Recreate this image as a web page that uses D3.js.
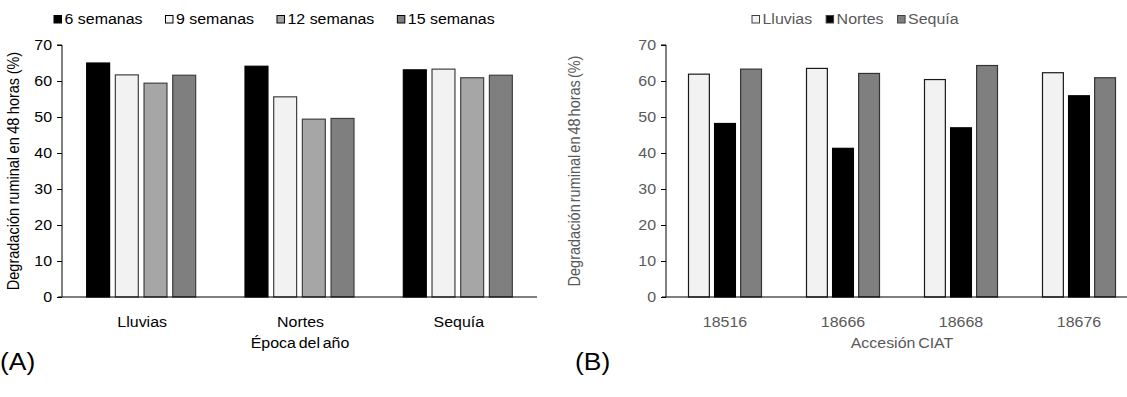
<!DOCTYPE html>
<html>
<head>
<meta charset="utf-8">
<script src="https://cdn.jsdelivr.net/npm/d3@7"></script>
<style>
  body { margin: 0; background: #fff; }
  svg { font-family: "Liberation Sans", Arial, sans-serif; }
</style>
</head>
<body>
<svg id="chart" width="1127" height="397"></svg>
<script>
// ---- data (A) ----
const epocas = ["Lluvias", "Nortes", "Sequía"];
const semanas = ["6 semanas", "9 semanas", "12 semanas", "15 semanas"];
const sem6 = [65.0, 64.1, 63.1];
const sem9 = [61.7, 55.6, 63.3];
const sem12 = [59.4, 49.4, 60.9];
const sem15 = [61.6, 49.6, 61.6];

// ---- data (B) ----
const accesiones = ["18516", "18666", "18668", "18676"];
const epocasB = ["Lluvias", "Nortes", "Sequía"];
const lluvias = [61.9, 63.5, 60.4, 62.3];
const nortes = [48.2, 41.3, 47.0, 55.9];
const sequia = [63.3, 62.1, 64.3, 60.9];

const yTicks = [0, 10, 20, 30, 40, 50, 60, 70];

const svg = d3.select("#chart");
const SX = 1.1;   // source image is a bit stretched horizontally
const FS = 14.5;

function BarChart(opts) {
    const y = d3.scaleLinear().domain([0, 70]).range([297, 45]);
    const x0 = d3.scaleBand().domain(opts.categories).range(opts.xRange);
    const x1 = d3.scaleBand().domain(opts.series)
                 .range([0, opts.groupWidth]).paddingInner(opts.inner);
    const off = (x0.bandwidth() - opts.groupWidth) / 2;
    const color = d3.scaleOrdinal().domain(opts.series).range(opts.colors);
    const stroke = d3.scaleOrdinal().domain(opts.series).range(opts.strokes);

    const g = svg.append("g");

    /* bars */
    opts.series.forEach((s, si) => {
        g.selectAll(null)
         .data(opts.values[si])
         .enter()
         .append("rect")
            .attr("x", (d, i) => x0(opts.categories[i]) + off + x1(s))
            .attr("y", d => y(d))
            .attr("width", x1.bandwidth())
            .attr("height", d => y(0) - y(d))
            .attr("fill", color(s))
            .attr("stroke", stroke(s))
            .attr("stroke-width", 1.2);
    });

    /* y axis */
    const yAxis = g.append("g")
                   .attr("transform", "translate(" + opts.xRange[0] + ",0)")
                   .call(d3.axisLeft(y).tickValues(yTicks).tickSize(5).tickPadding(4));
    yAxis.select(".domain").attr("stroke", "#000").attr("d", "M-5,45H0V297");
    yAxis.selectAll(".tick line").attr("stroke", "#000");
    yAxis.selectAll(".tick text")
         .attr("font-size", FS).attr("fill", opts.textColor)
         .attr("font-family", "Liberation Sans, Arial")
         .attr("transform", "scale(" + SX + ",1)");

    /* x axis line */
    g.append("line")
     .attr("x1", opts.xRange[0] - 4).attr("x2", opts.xRange[1])
     .attr("y1", y(0)).attr("y2", y(0))
     .attr("stroke", "#000").attr("stroke-width", 1.2);

    /* category labels */
    g.selectAll(null)
     .data(opts.categories)
     .enter()
     .append("text")
        .attr("transform", d => "translate(" + (x0(d) + x0.bandwidth() / 2 + opts.labelShift) + ",327) scale(" + SX + ",1)")
        .attr("text-anchor", "middle")
        .attr("font-size", FS)
        .attr("fill", opts.textColor)
        .text(d => d);

    /* x title */
    g.append("text")
     .attr("transform", "translate(" + opts.xTitleX + ",348) scale(" + SX + ",1)")
     .attr("text-anchor", "middle")
     .attr("font-size", FS)
     .attr("word-spacing", -1.5)
     .attr("fill", opts.textColor)
     .text(opts.xTitle);

    /* y title */
    g.append("text")
     .attr("transform", "translate(" + opts.yTitleX + ",171) rotate(-90) scale(1," + SX + ")")
     .attr("text-anchor", "middle")
     .attr("font-size", FS)
     .attr("word-spacing", opts.yWordSpacing)
     .attr("fill", opts.textColor)
     .text("Degradación ruminal en 48 horas (%)");

    /* legend */
    let lx = opts.legendX;
    opts.series.forEach(s => {
        g.append("rect")
         .attr("x", lx).attr("y", 15.5)
         .attr("width", 7.5).attr("height", 7.5)
         .attr("fill", color(s))
         .attr("stroke", opts.legendStroke)
         .attr("stroke-width", 1);
        const t = g.append("text")
                   .attr("transform", "translate(" + (lx + 10.5) + ",24) scale(" + SX + ",1)")
                   .attr("font-size", FS)
                   .attr("fill", opts.textColor)
                   .text(s);
        lx += 10.5 + t.node().getComputedTextLength() * SX + opts.legendGap;
    });

    /* panel label */
    g.append("text")
     .attr("transform", "translate(" + opts.panelX + ",370) scale(" + SX + ",1)")
     .attr("font-size", 24)
     .attr("fill", "#000")
     .text(opts.panel);
}

BarChart({
    categories: epocas,
    series: semanas,
    values: [sem6, sem9, sem12, sem15],
    colors: ["#000000", "#f2f2f2", "#a6a6a6", "#7f7f7f"],
    strokes: ["#000000", "#404040", "#404040", "#404040"],
    xRange: [62, 537],
    groupWidth: 109,
    inner: 0.2,
    labelShift: 1,
    textColor: "#000",
    xTitle: "Época del año",
    xTitleX: 300,
    yTitleX: 19,
    yWordSpacing: -0.5,
    legendX: 54,
    legendGap: 23,
    legendStroke: "#000",
    panel: "(A)",
    panelX: 0
});

BarChart({
    categories: accesiones,
    series: epocasB,
    values: [lluvias, nortes, sequia],
    colors: ["#f2f2f2", "#000000", "#7f7f7f"],
    strokes: ["#1a1a1a", "#000000", "#333333"],
    xRange: [666, 1138],
    groupWidth: 73,
    inner: 0.2,
    labelShift: 0,
    textColor: "#595959",
    xTitle: "Accesión CIAT",
    xTitleX: 902,
    yTitleX: 580,
    yWordSpacing: -2,
    legendX: 752,
    legendGap: 14,
    legendStroke: "#404040",
    panel: "(B)",
    panelX: 575
});
</script>
</body>
</html>
